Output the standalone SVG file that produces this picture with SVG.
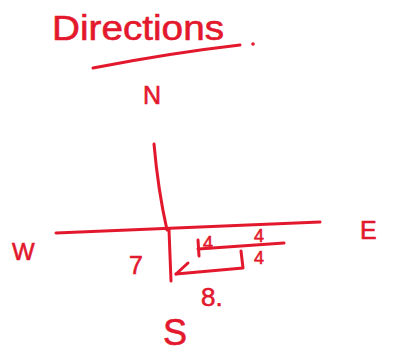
<svg xmlns="http://www.w3.org/2000/svg" width="394" height="352" viewBox="0 0 394 352">
<style>
.s{fill:none;stroke:#e3182d;stroke-linecap:round;stroke-linejoin:round;stroke-width:3}
.t{fill:#e3182d;font-family:"Liberation Sans",Arial,sans-serif;stroke:#e3182d;stroke-width:0.6}
</style>
<rect width="394" height="352" fill="#fff"/>
<g id="title">
<text class="t" x="52" y="40" font-size="35" textLength="172" lengthAdjust="spacingAndGlyphs">Directions</text>
<path class="s" d="M93 68 Q170 53 240 45"/>
<circle cx="253" cy="44" r="1.8" fill="#e3182d"/>
</g>
<g id="connectors">
<path class="s" d="M154 144 Q158 190 167 230"/>
<path class="s" d="M56 233 L320 222"/>
<path class="s" d="M169 230 L171 281" stroke-width="6"/>
<path class="s" d="M176 274 L243 268 L241 251"/>
<path class="s" d="M176 274 L188 263"/>
<path class="s" d="M198 249 L284 243"/>
<path class="s" d="M198 240 L199 256"/>
</g>
<g id="n-north"><text class="t" x="143" y="104" font-size="25">N</text></g>
<g id="n-west"><text class="t" x="12" y="260" font-size="24">W</text></g>
<g id="n-east"><text class="t" x="360" y="239" font-size="25">E</text></g>
<g id="n-south"><text class="t" x="163" y="345" font-size="36">S</text></g>
<g id="l-7"><text class="t" x="129" y="274" font-size="25">7</text></g>
<g id="l-4a"><text class="t" x="203" y="249" font-size="18">4</text></g>
<g id="l-4b"><text class="t" x="254" y="242" font-size="18">4</text></g>
<g id="l-4c"><text class="t" x="254" y="264" font-size="18">4</text></g>
<g id="l-8"><text class="t" x="201" y="306" font-size="26">8.</text></g>
</svg>
